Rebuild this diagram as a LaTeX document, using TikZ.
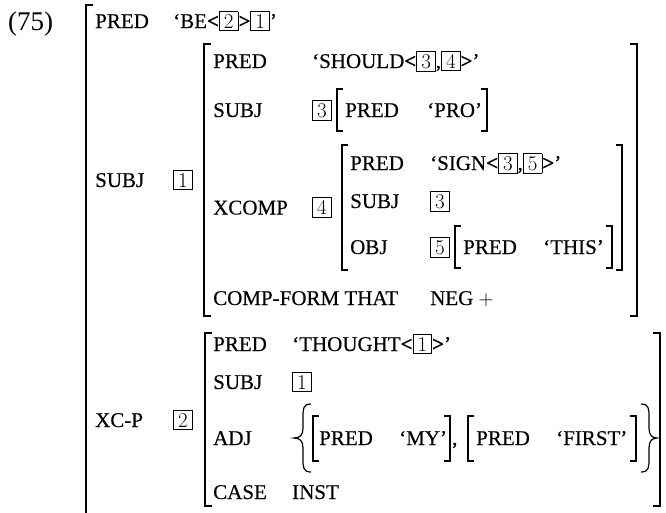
\documentclass[tikz,border=0pt]{standalone}
\usepackage{fontspec}
\setmainfont{Liberation Serif}
\newfontfamily\avmfont{Liberation Serif}[Ligatures=TeX, FakeBold=0.3]
\newcommand{\tg}[1]{{\fboxsep=2.2pt\fboxrule=0.8pt\fbox{\makebox[13.5pt]{\fontfamily{lmr}\selectfont #1}}}}
\newcommand{\lt}{{\bfseries <}}
\newcommand{\gt}{{\bfseries >}}
\begin{document}
\begin{tikzpicture}[x=1pt, y=-1pt,
        lbl/.style={anchor=base west, inner sep=0pt,
          font=\avmfont\fontsize{21}{24}\selectfont},
        exno/.style={anchor=base west, inner sep=0pt,
          font=\fontsize{27}{30}\selectfont},
        brk/.style={line width=1.3pt},
        outerbrk/.style={line width=1.9pt},
        brace/.style={line width=1.2pt}
      ]
      \useasboundingbox (0,0) rectangle (666,512);

      \node[exno] (exnum) at (8,30) {(75)};
      \draw[outerbrk] (93,5) -- (86,5) -- (86,516);

      \node[lbl] (predA) at (95,28) {PRED};
      \node[lbl] (be) at (173,28) {‘BE\lt\tg{2}\gt\tg{1}’};
      \node[lbl] (subjA) at (95,187) {SUBJ};
      \node[lbl] (subjAtag) at (173,187) {\tg{1}};
      \node[lbl] (xcp) at (95,427) {XC-P};
      \node[lbl] (xcptag) at (173,427) {\tg{2}};

      \draw[brk] (211,44) -- (204,44) -- (204,316) -- (211,316);
      \draw[brk] (630,44) -- (637,44) -- (637,316) -- (630,316);

      \node[lbl] (predB) at (213,68) {PRED};
      \node[lbl] (should) at (312,68) {‘SHOULD\lt\tg{3},\tg{4}\gt’};
      \node[lbl] (subjB) at (213,117) {SUBJ};
      \node[lbl] (subjBtag) at (312,117) {\tg{3}};
      \draw[brk] (343,89) -- (337,89) -- (337,131) -- (343,131);
      \draw[brk] (481,89) -- (487,89) -- (487,131) -- (481,131);
      \node[lbl] (predPro) at (345,117) {PRED};
      \node[lbl] (pro) at (427,117) {‘PRO’};

      \node[lbl] (xcomp) at (213,214.5) {XCOMP};
      \node[lbl] (xcomptag) at (312,214.5) {\tg{4}};
      \draw[brk] (348,145) -- (342,145) -- (342,270) -- (348,270);
      \draw[brk] (616,145) -- (622,145) -- (622,270) -- (616,270);
      \node[lbl] (predC) at (350,170) {PRED};
      \node[lbl] (sign) at (430,170) {‘SIGN\lt\tg{3},\tg{5}\gt’};
      \node[lbl] (subjC) at (350,208) {SUBJ};
      \node[lbl] (subjCtag) at (430,208) {\tg{3}};
      \node[lbl] (obj) at (350,254) {OBJ};
      \node[lbl] (objtag) at (430,254) {\tg{5}};
      \draw[brk] (461,226) -- (455,226) -- (455,268) -- (461,268);
      \draw[brk] (606,226) -- (612,226) -- (612,268) -- (606,268);
      \node[lbl] (predThis) at (463,254) {PRED};
      \node[lbl] (this) at (543,254) {‘THIS’};
      \node[lbl] (compform) at (213,305) {COMP-FORM THAT};
      \node[lbl] (neg) at (430,305) {NEG $+$};

      \draw[brk] (212,333) -- (205,333) -- (205,506) -- (212,506);
      \draw[brk] (653,333) -- (660,333) -- (660,506) -- (653,506);
      \node[lbl] (predD) at (213,351) {PRED};
      \node[lbl] (thought) at (292,351) {‘THOUGHT\lt\tg{1}\gt’};
      \node[lbl] (subjD) at (213,389) {SUBJ};
      \node[lbl] (subjDtag) at (292,389) {\tg{1}};
      \node[lbl] (adj) at (213,445) {ADJ};
      \draw[brace] (311,404) .. controls (303,404) and (303,409) .. (303,417)
        -- (303,428) .. controls (303,435) and (300,438) .. (294,438)
        .. controls (300,438) and (303,441) .. (303,448)
        -- (303,459) .. controls (303,467) and (303,472) .. (311,472);
      \draw[brk] (319,416) -- (313,416) -- (313,461) -- (319,461);
      \draw[brk] (444,416) -- (450,416) -- (450,461) -- (444,461);
      \node[lbl] (predMy) at (319,445) {PRED};
      \node[lbl] (my) at (399,445) {‘MY’};
      \node[lbl] (comma) at (452,445) {,};
      \draw[brk] (474,416) -- (468,416) -- (468,461) -- (474,461);
      \draw[brk] (630,416) -- (636,416) -- (636,461) -- (630,461);
      \node[lbl] (predFirst) at (476,445) {PRED};
      \node[lbl] (first) at (556,445) {‘FIRST’};
      \draw[brace] (641,404) .. controls (649,404) and (649,409) .. (649,417)
        -- (649,428) .. controls (649,435) and (652,438) .. (657,438)
        .. controls (652,438) and (649,441) .. (649,448)
        -- (649,459) .. controls (649,467) and (649,472) .. (641,472);
      \node[lbl] (caseD) at (213,499) {CASE};
      \node[lbl] (inst) at (292,499) {INST};
    \end{tikzpicture}
\end{document}
